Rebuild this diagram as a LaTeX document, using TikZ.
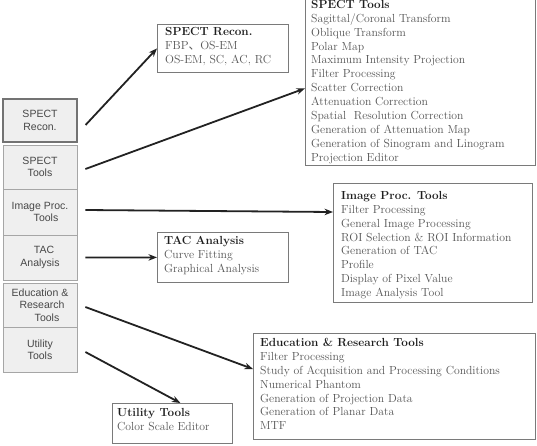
\documentclass[tikz,border=0pt]{standalone}
\usepackage{fontspec}
\newfontfamily\menufont{Liberation Sans}
\newfontfamily\cjk{Noto Sans CJK JP}
\usetikzlibrary{arrows.meta,calc}
\definecolor{arrowc}{HTML}{222222}
\definecolor{btnfill}{HTML}{EFEFEF}
\definecolor{btnline}{HTML}{A6A6A6}
\definecolor{boxline}{HTML}{7A7A7A}
\definecolor{itemc}{HTML}{555555}
\definecolor{titlec}{HTML}{1E1E1E}
\begin{document}
\begin{tikzpicture}[x=1pt,y=-1pt,
  btn/.style={draw=btnline, line width=0.8pt, fill=btnfill, minimum width=74pt, inner sep=0pt,
    font=\menufont\fontsize{10.5}{12.5}\selectfont, text=black!72, align=center},
  selbtn/.style={btn, draw=black!55, line width=1.1pt},
  infobox/.style={draw=boxline, line width=0.8pt, fill=white, anchor=north west, inner sep=0pt},
  infotxt/.style={anchor=north west, inner sep=0pt, align=left, text=itemc,
    font=\fontsize{11.7}{13.9}\selectfont},
  arr/.style={draw=arrowc, line width=1.8pt, -{Stealth[length=8.5pt,width=6.5pt]}}
]
\useasboundingbox (0,0) rectangle (537,445);

% menu buttons
\node[selbtn, minimum height=43pt] (b1) at (40,120.5) {SPECT\\Recon.};
\node[btn, minimum height=44pt] (b2) at (40,167) {SPECT\\Tools};
\node[btn, minimum height=46pt] (b3) at (40,212) {Image Proc.\\\hspace*{12pt}Tools};
\node[btn, minimum height=45pt] (b4) at (40,257.5) {\hspace*{8pt}TAC\\Analysis};
\node[btn, minimum height=44pt] (b5) at (40,305) {Education \&\\\hspace*{4pt}Research\\\hspace*{14pt}Tools};
\node[btn, minimum height=45pt] (b6) at (40,349.5) {Utility\\Tools};

% info boxes
\node[infobox, minimum width=131pt, minimum height=48pt] (recon) at (157,24) {};
\node[infotxt] (recontxt) at (165,27) {\textbf{\textcolor{titlec}{SPECT Recon.}}\\FBP{\cjk 、}OS-EM\\OS-EM, SC, AC, RC};

\node[infobox, minimum width=230pt, minimum height=168pt] (tools) at (305,-3) {};
\node[infotxt] (toolstxt) at (311,0) {\textbf{\textcolor{titlec}{SPECT Tools}}\\
Sagittal/Coronal Transform\\
Oblique Transform\\
Polar Map\\
Maximum Intensity Projection\\
Filter Processing\\
Scatter Correction\\
Attenuation Correction\\
Spatial\ \ Resolution Correction\\
Generation of Attenuation Map\\
Generation of Sinogram and Linogram\\
Projection Editor};

\node[infobox, minimum width=199pt, minimum height=119pt] (img) at (333,183) {};
\node[infotxt] (imgtxt) at (341,191) {\textbf{\textcolor{titlec}{Image Proc. Tools}}\\
Filter Processing\\
General Image Processing\\
ROI Selection \& ROI Information\\
Generation of TAC\\
Profile\\
Display of Pixel Value\\
Image Analysis Tool};

\node[infobox, minimum width=131pt, minimum height=50pt] (tac) at (157,232) {};
\node[infotxt] (tactxt) at (164,236) {\textbf{\textcolor{titlec}{TAC Analysis}}\\
Curve Fitting\\
Graphical Analysis};

\node[infobox, minimum width=282pt, minimum height=106pt] (edu) at (253,333) {};
\node[infotxt] (edutxt) at (260,338) {\textbf{\textcolor{titlec}{Education \& Research Tools}}\\
Filter Processing\\
Study of Acquisition and Processing Conditions\\
Numerical Phantom\\
Generation of Projection Data\\
Generation of Planar Data\\
MTF};

\node[infobox, minimum width=120pt, minimum height=40pt] (util) at (112,403) {};
\node[infotxt] (utiltxt) at (117,408) {\textbf{\textcolor{titlec}{Utility Tools}}\\
Color Scale Editor};

% arrow start points
\coordinate (s1) at ($(b1.east)+(8,4.5)$);
\coordinate (s2) at ($(b2.east)+(8,2)$);
\coordinate (s3) at ($(b3.east)+(8,-2)$);
\coordinate (s4) at ($(b4.east)+(8,0)$);
\coordinate (s5) at ($(b5.east)+(8,2)$);
\coordinate (s6) at ($(b6.east)+(8,2.5)$);

\draw[arr] (s1) -- (recon.west);
\draw[arr] (s2) -- ([yshift=-7pt]tools.west);
\draw[arr] (s3) -- ([yshift=-29pt]img.north west);
\draw[arr] (s4) -- (tac.west);
\draw[arr] (s5) -- ([yshift=-36pt]edu.north west);
\draw[arr] (s6) -- ([xshift=8pt]util.north);
\end{tikzpicture}
\end{document}
